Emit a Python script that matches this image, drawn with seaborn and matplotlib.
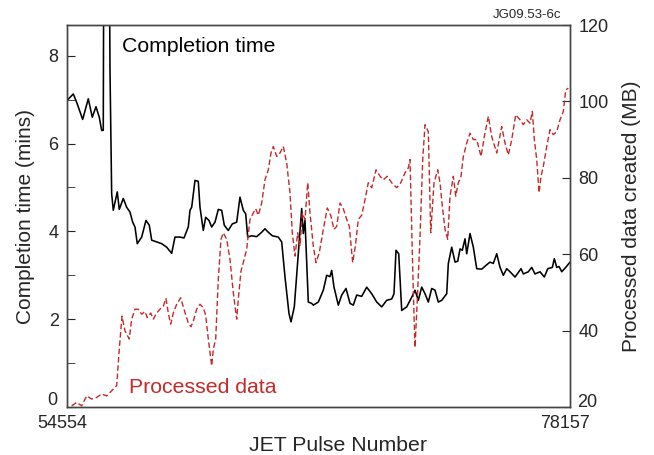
import matplotlib
matplotlib.use("Agg")
import matplotlib.pyplot as plt
import seaborn as sns
import pandas as pd
from matplotlib.ticker import MultipleLocator, FixedLocator

# completion time (mins) vs JET pulse number
pulse_time = [54554, 54850, 55009, 55291, 55554, 55741, 55915, 56070, 56182, 56257,
              56290, 56525, 56572, 56651, 56727, 56914, 57008, 57196, 57355, 57510,
              57637, 57745, 57853, 58059, 58261, 58416, 58529, 58763, 58998, 59232,
              59467, 59622, 59857, 60044, 60246, 60326, 60406, 60560, 60715, 60795,
              60950, 61062, 61217, 61344, 61499, 61654, 61813, 61935, 62123, 62311,
              62517, 62672, 62827, 62940, 63033, 63221, 63456, 63690, 63845, 64000,
              64188, 64469, 64629, 64784, 64971, 65065, 65220, 65408, 65567, 65642,
              65722, 65802, 65877, 66037, 66112, 66346, 66581, 66740, 66895, 66975,
              67083, 67285, 67444, 67646, 67834, 67989, 68148, 68383, 68617, 68852,
              69087, 69321, 69556, 69790, 69898, 69992, 70119, 70260, 70494, 70729,
              70884, 71039, 71198, 71353, 71508, 71668, 71822, 71977, 72137, 72371,
              72447, 72606, 72761, 72888, 72996, 73103, 73230, 73310, 73465, 73620,
              73779, 74014, 74248, 74403, 74558, 74718, 74873, 75028, 75187, 75342,
              75576, 75858, 75966, 76200, 76360, 76515, 76749, 76951, 77111, 77327,
              77421, 77533, 77641, 77768, 77956, 78157]
completion = [6.98, 7.13, 6.94, 6.55, 7.02, 6.6, 6.84, 6.6, 6.3, 6.3,
              12.0, 12.0, 7.7, 4.86, 4.48, 4.9, 4.5, 4.75, 4.55, 4.44,
              4.21, 4.1, 3.72, 3.87, 4.25, 4.14, 3.8, 3.76, 3.72, 3.64,
              3.5, 3.87, 3.87, 3.85, 4.1, 4.48, 4.55, 5.16, 5.14, 4.55,
              4.02, 4.32, 4.25, 4.1, 4.21, 4.5, 4.48, 4.14, 4.02, 4.17,
              4.21, 4.78, 4.48, 4.4, 3.87, 3.9, 3.88, 3.98, 4.06, 3.98,
              3.9, 3.87, 3.76, 2.96, 2.13, 1.94, 2.28, 3.49, 4.52, 3.95,
              4.25, 3.27, 2.39, 2.36, 2.32, 2.39, 2.66, 3.0, 2.97, 3.11,
              2.73, 2.32, 2.55, 2.7, 2.36, 2.32, 2.55, 2.52, 2.73, 2.58,
              2.39, 2.28, 2.43, 2.46, 2.58, 3.57, 3.49, 2.2, 2.28, 2.5,
              2.66, 2.43, 2.73, 2.58, 2.39, 2.7, 2.66, 2.39, 2.43, 2.58,
              3.27, 3.64, 3.3, 3.32, 3.6, 3.57, 3.83, 3.49, 3.95, 3.64,
              3.15, 3.14, 3.24, 3.3, 3.27, 3.49, 3.18, 3.0, 3.15, 3.08,
              2.96, 3.15, 3.03, 3.08, 3.18, 3.03, 3.08, 2.96, 3.15, 3.18,
              3.38, 3.18, 3.2, 3.08, 3.18, 3.3]

# processed data created (MB) vs JET pulse number
pulse_data = [54774, 55009, 55244, 55478, 55713, 55948, 56182, 56417, 56572, 56727,
              56886, 57008, 57135, 57276, 57477, 57590, 57745, 57900, 58059, 58214,
              58322, 58482, 58604, 58763, 58918, 59073, 59200, 59308, 59420, 59542,
              59702, 59889, 60044, 60246, 60373, 60481, 60640, 60795, 60950, 61062,
              61185, 61344, 61419, 61532, 61654, 61780, 61888, 62048, 62203, 62358,
              62517, 62592, 62719, 62827, 62986, 63141, 63296, 63409, 63531, 63690,
              63845, 64000, 64127, 64235, 64394, 64549, 64704, 64863, 65018, 65126,
              65253, 65380, 65488, 65595, 65722, 65849, 65957, 66112, 66238, 66393,
              66581, 66769, 66928, 67083, 67210, 67365, 67519, 67679, 67801, 67960,
              68083, 68223, 68383, 68538, 68692, 68852, 69054, 69242, 69397, 69584,
              69790, 70025, 70213, 70415, 70569, 70649, 70729, 70804, 70884, 70992,
              71119, 71245, 71353, 71508, 71621, 71775, 71949, 72057, 72165, 72292,
              72418, 72526, 72681, 72794, 72916, 73042, 73151, 73310, 73465, 73620,
              73779, 73981, 74136, 74324, 74483, 74718, 74952, 75107, 75262, 75421,
              75609, 75811, 75966, 76125, 76280, 76388, 76482, 76594, 76703, 76796,
              76904, 77064, 77219, 77374, 77533, 77688, 77843, 77956, 78078]
processed = [20.3, 21.2, 20.3, 22.9, 22.1, 22.5, 23.4, 22.9, 23.8, 24.7,
             25.6, 35.1, 43.8, 39.9, 37.8, 43.0, 45.6, 45.6, 44.3, 45.0,
             43.4, 44.6, 43.0, 44.6, 45.6, 46.4, 48.4, 44.6, 41.7, 44.6,
             46.9, 48.6, 45.6, 42.0, 41.0, 42.5, 45.6, 46.9, 46.0, 44.0,
             37.8, 30.8, 35.1, 37.8, 53.4, 63.9, 65.6, 63.9, 58.6, 49.9,
             43.0, 48.2, 55.6, 57.8, 61.3, 69.1, 70.8, 71.9, 70.2, 73.4,
             79.5, 82.1, 86.5, 88.2, 85.6, 86.5, 88.2, 83.9, 76.1, 65.6,
             59.5, 65.6, 62.1, 70.8, 69.1, 78.7, 70.8, 62.1, 57.8, 60.4,
             66.5, 72.1, 70.2, 66.5, 67.3, 73.4, 71.9, 69.1, 67.3, 57.8,
             62.1, 69.1, 70.2, 74.3, 78.7, 77.4, 82.1, 80.4, 79.5, 80.4,
             78.7, 77.4, 78.7, 81.3, 82.6, 84.8, 67.3, 49.9, 35.6, 48.2,
             64.7, 84.8, 93.9, 92.1, 65.6, 78.7, 82.1, 78.7, 72.6, 66.5,
             63.9, 75.2, 80.4, 75.2, 78.7, 80.4, 85.6, 89.1, 91.7, 90.0,
             90.0, 85.6, 90.8, 96.1, 90.8, 86.5, 93.4, 89.1, 86.0, 90.0,
             96.5, 95.2, 93.9, 95.2, 94.3, 97.4, 90.0, 84.8, 76.1, 80.4,
             83.0, 88.2, 92.6, 91.3, 92.1, 95.2, 97.4, 103.0, 103.5]

x_range = [54554, 78157]
left_ticks = [0, 2, 4, 6, 8]
right_ticks = [20, 40, 60, 80, 100, 120]

df_time = pd.DataFrame({"pulse": pulse_time, "mins": completion})
df_data = pd.DataFrame({"pulse": pulse_data, "mb": processed})

sns.set_style("white")
plt.rcParams["font.family"] = ["Liberation Sans", "DejaVu Sans"]

red = "#c42a2a"
fig = plt.figure(figsize=(6.54, 4.55), dpi=100)
ax = fig.add_axes([0.1024, 0.1055, 0.7692, 0.8395])
ax2 = ax.twinx()

sns.lineplot(data=df_time, x="pulse", y="mins", ax=ax, color="black", linewidth=1.15)
sns.lineplot(data=df_data, x="pulse", y="mb", ax=ax2, color=red, linewidth=1.0,
             linestyle=(0, (4, 2)))

ax.set_xlim(x_range)
ax.set_ylim(0, 8.7)
ax2.set_ylim(20, 120)

# x tick labels drawn by hand (sit a little left of the ends)
ax.set_xticks(x_range)
ax.set_xticklabels([])
for xv in x_range:
    ax.annotate(str(xv), xy=(xv, 0), xycoords=("data", "axes fraction"),
                xytext=(-3.6, -12), textcoords="offset points",
                ha="center", va="center", fontsize=13)

ax.yaxis.set_major_locator(FixedLocator(left_ticks))
ax.yaxis.set_minor_locator(MultipleLocator(1))
ax.set_yticklabels([""] + [str(v) for v in left_ticks[1:]])
ax2.yaxis.set_major_locator(FixedLocator(right_ticks))
ax2.set_yticklabels([""] + [str(v) for v in right_ticks[1:]])
# bottom labels nudged up, as in the original
ax.annotate(str(left_ticks[0]), xy=(0, 0), xycoords="axes fraction",
            xytext=(-10.8, 5), textcoords="offset points",
            ha="center", va="center", fontsize=13)
ax.annotate(str(right_ticks[0]), xy=(1, 0), xycoords="axes fraction",
            xytext=(12.2, 3), textcoords="offset points",
            ha="center", va="center", fontsize=13)

ax.tick_params(axis="x", length=0)
ax.tick_params(axis="y", which="both", direction="in", length=6, labelsize=13, pad=6)
ax2.tick_params(axis="y", direction="in", length=6, labelsize=13, pad=6)

for a in (ax, ax2):
    for s in a.spines.values():
        s.set_color("#444444")
        s.set_linewidth(1.0)

ax.set_xlabel("JET Pulse Number", fontsize=15.3)
ax.xaxis.set_label_coords(0.539, -0.077)
ax.set_ylabel("Completion time (mins)", fontsize=15, labelpad=10)
ax2.set_ylabel("Processed data created (MB)", fontsize=15, labelpad=10)

ax.text(0.109, 0.945, "Completion time", transform=ax.transAxes, fontsize=15.3,
        ha="left", va="center", color="black")
ax.text(0.124, 0.05, "Processed data", transform=ax.transAxes, fontsize=15.3,
        ha="left", va="center", color=red)
fig.text(0.806, 0.968, "JG09.53-6c", fontsize=9.5, ha="center", va="center")

fig.savefig("out.png", dpi=100)
